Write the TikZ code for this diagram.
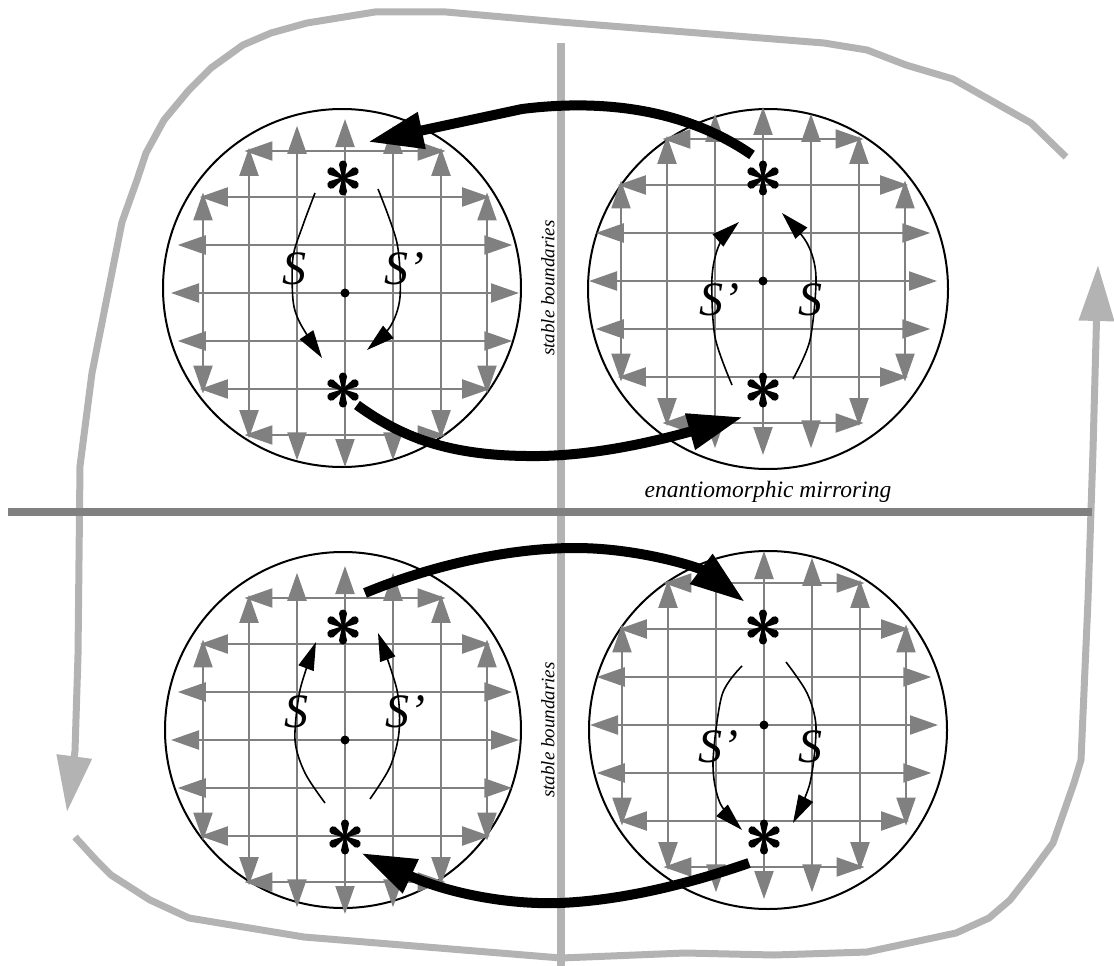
\documentclass[tikz,border=0pt]{standalone}
\usepackage{fontspec}
\setmainfont{Liberation Serif}
\usetikzlibrary{arrows.meta}
\definecolor{gmid}{HTML}{808080}
\definecolor{glight}{HTML}{B3B3B3}
\tikzset{
 gridarr/.style={draw=gmid, line width=2.2pt, {Triangle[length=28pt,width=19pt]}-{Triangle[length=28pt,width=19pt]}},
 rim/.style={draw=black, line width=2pt},
 sarrow/.style={draw=black, line width=1.6pt, -{Triangle[length=28pt,width=16pt]}},
 bigarrow/.style={draw=black, line width=10pt, -{Triangle[length=55pt,width=35pt]}},
 outerloop/.style={draw=glight, line width=7pt, line join=round, -{Triangle[length=56pt,width=34pt]}},
 slab/.style={font=\itshape\fontsize{48}{52}\selectfont, inner sep=0pt},
 sblab/.style={font=\itshape\fontsize{19}{21}\selectfont, inner sep=0pt, rotate=90},
 astr/.pic={
   \fill (0,0) circle[radius=1.8pt];
   \foreach \a in {90,30,-30,-90,-150,150}{
     \fill[rotate=\a] (0pt,-1pt) -- (13.5pt,-4pt) arc[start angle=-90,end angle=90,radius=4pt] -- (0pt,1pt) -- cycle;
   }
 }
}
\newcommand{\vecfield}{%
  \foreach \d in {-142,-96,-48,0,48,96,142}{%
    \pgfmathsetmacro{\L}{100*sqrt(1.74*1.74-(\d/100)*(\d/100))}%
    \draw[gridarr] (-\L,\d) -- (\L,\d);
    \draw[gridarr] (\d,-\L) -- (\d,\L);
  }%
  \fill (0,0) circle[radius=4.5pt];
}
\begin{document}
\begin{tikzpicture}[x=1pt,y=-1pt]
\useasboundingbox (0,0) rectangle (1114,966);

% outer loop
\draw[outerloop] plot coordinates {(1066,157) (1031,123) (953,79) (906,65) (867,50) (824,43) (560,22) (446,12) (375,12) (307,23) (271,33) (243,45) (211,68) (189,90) (164,120) (146,153) (137,180) (122,222) (92,373) (80,466) (78,655) (75,751) (67,812)};
\draw[outerloop] plot coordinates {(75,837) (96,860) (111,875) (150,900) (189,918) (304,937) (561,958) (685,953) (774,955) (867,952) (956,933) (989,918) (1010,900) (1031,873) (1053,843) (1074,783) (1081,760) (1088,600) (1093,450) (1098,265)};

% dividers
\draw[draw=glight, line width=8pt] (561,43) -- (561,966);
\draw[draw=gmid, line width=8pt] (8,512) -- (1092,512);

% circles
\draw[rim] (342,288) circle[radius=179];
\draw[rim] (768,289) circle[radius=180];
\draw[rim] (343,730) circle[radius=178];
\draw[rim] (768,730) circle[radius=179];

% top-left field
\begin{scope}[shift={(345,293)}]
  \vecfield
  \draw[sarrow] plot[smooth] coordinates {(-30,-100) (-42,-68) (-52,-36) (-52,7) (-45,30) (-23,65)};
  \draw[sarrow] plot[smooth] coordinates {(33,-104) (52,-50) (55,4) (45,34) (22,57)};
  \node[slab] (tlS) at (-51,-24) {S};
  \node[slab] (tlSp) at (59,-24) {S’};
\end{scope}
% top-right field
\begin{scope}[shift={(763,281)}]
  \vecfield
  \draw[sarrow] plot[smooth] coordinates {(-31,104) (-48,56) (-51,-4) (-43,-38) (-24,-59)};
  \draw[sarrow] plot[smooth] coordinates {(30,98) (47,59) (53,-4) (44,-38) (19,-68)};
  \node[slab] (trSp) at (-44,19) {S’};
  \node[slab] (trS) at (47,19) {S};
\end{scope}
% bottom-left field
\begin{scope}[shift={(345,740)}]
  \vecfield
  \draw[sarrow] plot[smooth] coordinates {(-20,63) (-40,33) (-50,0) (-45,-50) (-29,-98)};
  \draw[sarrow] plot[smooth] coordinates {(25,59) (45,27) (54,-8) (52,-50) (33,-107)};
  \node[slab] (blS) at (-49,-28) {S};
  \node[slab] (blSp) at (60,-28) {S’};
\end{scope}
% bottom-right field
\begin{scope}[shift={(764,725)}]
  \vecfield
  \draw[sarrow] plot[smooth] coordinates {(-22,-59) (-42,-30) (-51,38) (-44,78) (-22,105)};
  \draw[sarrow] plot[smooth] coordinates {(22,-63) (43,-32) (52,2) (46,58) (29,98)};
  \node[slab] (brSp) at (-46,22) {S’};
  \node[slab] (brS) at (46,22) {S};
\end{scope}

% asterisks (singular points)
\coordinate (tlTop) at (343,178);
\coordinate (tlBot) at (343,390);
\coordinate (trTop) at (763,178);
\coordinate (trBot) at (763,390);
\coordinate (blTop) at (343,627);
\coordinate (blBot) at (345,837);
\coordinate (brTop) at (763,627);
\coordinate (brBot) at (764,837);
\foreach \p in {tlTop,tlBot,trTop,trBot,blTop,blBot,brTop,brBot}{\pic at (\p) {astr};}

% big connecting arrows
\draw[bigarrow] ([shift={(-11,-23)}]trTop) .. controls (690,112) and (610,98) .. (522,109) -- ([shift={(25,-36)}]tlTop);
\draw[bigarrow] ([shift={(14,15)}]tlBot) .. controls (405,440) and (455,457) .. (540,456) .. controls (600,455) and (660,440) .. ([shift={(-20,27)}]trBot);
\draw[bigarrow] ([shift={(22,-34)}]blTop) .. controls (420,570) and (500,548) .. (575,548) .. controls (640,548) and (700,568) .. ([shift={(-18,-25)}]brTop);
\draw[bigarrow] ([shift={(-15,26)}]brBot) .. controls (700,880) and (630,900) .. (560,903) .. controls (500,905) and (440,890) .. ([shift={(16,16)}]blBot);

% labels
\node[sblab] (sb1) at (548,288) {stable boundaries};
\node[sblab] (sb2) at (548,730) {stable boundaries};
\node[font=\itshape\fontsize{23.5}{26}\selectfont, inner sep=0pt] (em) at (768,492) {enantiomorphic mirroring};
\end{tikzpicture}
\end{document}
